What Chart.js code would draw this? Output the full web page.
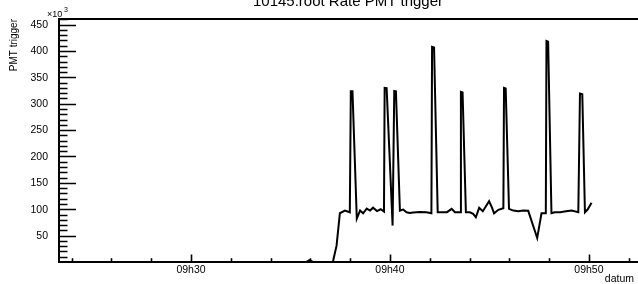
<!DOCTYPE html>
<html>
<head>
<meta charset="utf-8">
<script src="https://cdn.jsdelivr.net/npm/chart.js@4/dist/chart.umd.min.js"></script>
<style>
html, body { margin: 0; padding: 0; background: #fff; overflow: hidden; }
</style>
</head>
<body>
<canvas id="rate-chart" width="638" height="284"></canvas>
<script>
// 10145.root - PMT trigger rate vs time (values in units of 10^3)
var times = [
  "09:24:10", "09:28:40", "09:33:20", "09:35:47", "09:35:57", "09:36:08",
  "09:37:08", "09:37:19", "09:37:29", "09:37:44", "09:37:59", "09:38:02",
  "09:38:07", "09:38:20", "09:38:30", "09:38:39", "09:38:50", "09:39:00",
  "09:39:09", "09:39:21", "09:39:32", "09:39:42", "09:39:44", "09:39:50",
  "09:40:08", "09:40:13", "09:40:18", "09:40:30", "09:40:40", "09:40:50",
  "09:41:00", "09:41:10", "09:41:30", "09:41:50", "09:42:05", "09:42:07",
  "09:42:13", "09:42:24", "09:42:40", "09:42:52", "09:43:06", "09:43:16",
  "09:43:33", "09:43:34", "09:43:39", "09:43:49", "09:44:01", "09:44:11",
  "09:44:19", "09:44:29", "09:44:40", "09:44:49", "09:44:59", "09:45:08",
  "09:45:14", "09:45:27", "09:45:42", "09:45:44", "09:45:49", "09:45:59",
  "09:46:12", "09:46:27", "09:46:42", "09:46:57", "09:47:24", "09:47:37",
  "09:47:50", "09:47:52", "09:47:57", "09:48:07", "09:48:17", "09:48:33",
  "09:48:51", "09:49:08", "09:49:28", "09:49:33", "09:49:40", "09:49:48",
  "09:49:56", "09:50:08"
];
var rates = [
  0, 0, 0, 0, 3.5, 0,
  0.5, 31, 92.4, 97.5, 94.3, 323.7,
  323.7, 82.3, 97.5, 92.4, 101.3, 97.5,
  103, 96.6, 100, 95.6, 330, 329.5,
  69, 324.3, 323.7, 97.5, 99.4, 94.3,
  92.8, 93.7, 94.7, 94.3, 92.4, 408,
  406.8, 94.3, 94.3, 94.5, 100.8, 94.3,
  94.3, 322.4, 321.3, 94.3, 94.3, 91.2,
  84.8, 102.7, 96.2, 105.1, 115.2, 102.7,
  92.4, 98.9, 101.9, 330, 328.9, 100.8,
  97.5, 96.2, 97.5, 97, 45.6, 92.4,
  92.4, 418.8, 417.5, 92.4, 94.3, 94.3,
  96.2, 97.5, 94.3, 319.4, 318, 94.3,
  99.4, 112.2
];

var yLabels = [50, 100, 150, 200, 250, 300, 350, 400, 450];
var xLabelTimes = ["09:30:00", "09:40:00", "09:50:00"];
var xRange = ["09:23:22", "09:52:28"];
var yRange = [0, 460.6];

function toSec(t) {
  var p = t.split(":");
  return (+p[0]) * 3600 + (+p[1]) * 60 + (+p[2]);
}
function fmtTime(s) {
  var h = Math.floor(s / 3600), m = Math.floor((s % 3600) / 60);
  return (h < 10 ? "0" : "") + h + "h" + (m < 10 ? "0" : "") + m;
}

var points = [];
for (var i = 0; i < times.length; i++) {
  points.push({ x: toSec(times[i]), y: rates[i] });
}

var narrow = "'Liberation Sans Narrow', 'Liberation Sans', Arial, sans-serif";
var sans = "'Liberation Sans', Arial, sans-serif";

// ROOT-like frame: inward ticks, top line, titles
var rootFrame = {
  id: 'rootFrame',
  afterDraw: function (chart) {
    var ctx = chart.ctx, a = chart.chartArea;
    var xs = chart.scales.x, ys = chart.scales.y;
    ctx.save();
    ctx.strokeStyle = '#000';
    ctx.fillStyle = '#000';

    // top frame line
    ctx.lineWidth = 2;
    ctx.beginPath();
    ctx.moveTo(a.left - 1, a.top);
    ctx.lineTo(a.right, a.top);
    ctx.stroke();

    // y ticks (minor every 10, major every 50)
    ctx.lineWidth = 1.6;
    ctx.beginPath();
    for (var v = 10; v <= yRange[1]; v += 10) {
      var py = Math.round(ys.getPixelForValue(v)) + 0.5;
      var len = (v % 50 === 0) ? 17 : 8.5;
      ctx.moveTo(a.left, py);
      ctx.lineTo(a.left + len, py);
    }
    // x ticks (minor every 2 min, major every 10 min)
    var start = Math.ceil(xs.min / 120) * 120;
    for (var t = start; t <= xs.max; t += 120) {
      var px = Math.round(xs.getPixelForValue(t)) + 0.5;
      var l2 = (t % 600 === 0) ? 7.5 : 3.7;
      ctx.moveTo(px, a.bottom);
      ctx.lineTo(px, a.bottom - l2);
    }
    ctx.stroke();

    // y tick labels
    ctx.font = "10.5px " + narrow;
    ctx.textAlign = 'right';
    ctx.textBaseline = 'middle';
    yLabels.forEach(function (v) {
      ctx.fillText(String(v), 48, ys.getPixelForValue(v) + 0.5);
    });

    // x tick labels
    ctx.textAlign = 'center';
    ctx.textBaseline = 'top';
    xLabelTimes.forEach(function (s) {
      var sec = toSec(s);
      ctx.fillText(fmtTime(sec), xs.getPixelForValue(sec), a.bottom + 3);
    });

    // x axis title
    ctx.textAlign = 'right';
    ctx.textBaseline = 'alphabetic';
    ctx.fillText('datum', 634, 282);

    // exponent
    ctx.textAlign = 'left';
    ctx.font = "9px " + sans;
    ctx.fillText('\u00d710', 47, 17);
    ctx.font = "7px " + sans;
    ctx.fillText('3', 64, 12);

    // y axis title
    ctx.save();
    ctx.translate(17, a.top);
    ctx.rotate(-Math.PI / 2);
    ctx.font = "10px " + sans;
    ctx.textAlign = 'right';
    ctx.textBaseline = 'alphabetic';
    ctx.fillText('PMT trigger', 0, 0);
    ctx.restore();

    // title (cut off at the top like the reference)
    ctx.font = "15px " + sans;
    ctx.textAlign = 'center';
    ctx.textBaseline = 'alphabetic';
    ctx.fillText('10145.root Rate PMT trigger', 348, 6);

    ctx.restore();
  }
};

new Chart(document.getElementById('rate-chart'), {
  type: 'line',
  data: {
    datasets: [{
      data: points,
      borderColor: '#000',
      borderWidth: 2,
      pointRadius: 0,
      tension: 0,
      fill: false
    }]
  },
  options: {
    responsive: false,
    animation: false,
    devicePixelRatio: 1,
    layout: { padding: { top: 19, left: 0, right: 0, bottom: 0 } },
    plugins: {
      legend: { display: false },
      tooltip: { enabled: false },
      title: { display: false }
    },
    scales: {
      x: {
        type: 'linear',
        min: toSec(xRange[0]),
        max: toSec(xRange[1]),
        grid: { display: false, drawTicks: false },
        border: { display: true, color: '#000', width: 2 },
        ticks: { display: false },
        afterFit: function (s) { s.height = 22; }
      },
      y: {
        min: yRange[0],
        max: yRange[1],
        grid: { display: false, drawTicks: false },
        border: { display: true, color: '#000', width: 2 },
        ticks: { display: false },
        afterFit: function (s) { s.width = 59; }
      }
    }
  },
  plugins: [rootFrame]
});
</script>
</body>
</html>
